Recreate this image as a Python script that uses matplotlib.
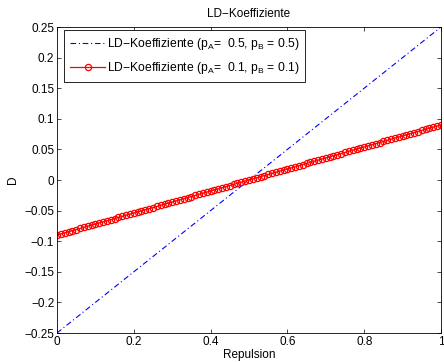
import matplotlib
matplotlib.use('Agg')
import matplotlib.pyplot as plt

# Data
x_blue = [0.0, 1.0]
d_blue = [-0.25, 0.25]

x_red = [
    0.00, 0.01, 0.02, 0.03, 0.04, 0.05, 0.06, 0.07, 0.08, 0.09,
    0.10, 0.11, 0.12, 0.13, 0.14, 0.15, 0.16, 0.17, 0.18, 0.19,
    0.20, 0.21, 0.22, 0.23, 0.24, 0.25, 0.26, 0.27, 0.28, 0.29,
    0.30, 0.31, 0.32, 0.33, 0.34, 0.35, 0.36, 0.37, 0.38, 0.39,
    0.40, 0.41, 0.42, 0.43, 0.44, 0.45, 0.46, 0.47, 0.48, 0.49,
    0.50, 0.51, 0.52, 0.53, 0.54, 0.55, 0.56, 0.57, 0.58, 0.59,
    0.60, 0.61, 0.62, 0.63, 0.64, 0.65, 0.66, 0.67, 0.68, 0.69,
    0.70, 0.71, 0.72, 0.73, 0.74, 0.75, 0.76, 0.77, 0.78, 0.79,
    0.80, 0.81, 0.82, 0.83, 0.84, 0.85, 0.86, 0.87, 0.88, 0.89,
    0.90, 0.91, 0.92, 0.93, 0.94, 0.95, 0.96, 0.97, 0.98, 0.99,
    1.00,
]
d_red = [
    -0.0900, -0.0882, -0.0864, -0.0846, -0.0828, -0.0810, -0.0792, -0.0774, -0.0756, -0.0738,
    -0.0720, -0.0702, -0.0684, -0.0666, -0.0648, -0.0630, -0.0612, -0.0594, -0.0576, -0.0558,
    -0.0540, -0.0522, -0.0504, -0.0486, -0.0468, -0.0450, -0.0432, -0.0414, -0.0396, -0.0378,
    -0.0360, -0.0342, -0.0324, -0.0306, -0.0288, -0.0270, -0.0252, -0.0234, -0.0216, -0.0198,
    -0.0180, -0.0162, -0.0144, -0.0126, -0.0108, -0.0090, -0.0072, -0.0054, -0.0036, -0.0018,
    0.0000, 0.0018, 0.0036, 0.0054, 0.0072, 0.0090, 0.0108, 0.0126, 0.0144, 0.0162,
    0.0180, 0.0198, 0.0216, 0.0234, 0.0252, 0.0270, 0.0288, 0.0306, 0.0324, 0.0342,
    0.0360, 0.0378, 0.0396, 0.0414, 0.0432, 0.0450, 0.0468, 0.0486, 0.0504, 0.0522,
    0.0540, 0.0558, 0.0576, 0.0594, 0.0612, 0.0630, 0.0648, 0.0666, 0.0684, 0.0702,
    0.0720, 0.0738, 0.0756, 0.0774, 0.0792, 0.0810, 0.0828, 0.0846, 0.0864, 0.0882,
    0.0900,
]

x_ticks = [0, 0.2, 0.4, 0.6, 0.8, 1]
x_ticklabels = ['0', '0.2', '0.4', '0.6', '0.8', '1']
y_ticks = [-0.25, -0.2, -0.15, -0.1, -0.05, 0, 0.05, 0.1, 0.15, 0.2, 0.25]
y_ticklabels = ['\u22120.25', '\u22120.2', '\u22120.15', '\u22120.1', '\u22120.05', '0',
                '0.05', '0.1', '0.15', '0.2', '0.25']

plt.rcParams['font.family'] = ['Liberation Sans', 'DejaVu Sans']
plt.rcParams['font.size'] = 8.5
plt.rcParams['mathtext.fontset'] = 'custom'
plt.rcParams['mathtext.rm'] = 'Liberation Sans'
plt.rcParams['mathtext.it'] = 'Liberation Sans'

fig = plt.figure(figsize=(4.44, 3.62), dpi=100)
ax = fig.add_axes([57 / 444, 1 - 333 / 362, 384 / 444, 306 / 362])

ax.plot(x_blue, d_blue, color='blue', linestyle='-.', linewidth=0.8,
        dashes=(5, 2.5, 1, 2.5),
        label='LD\u2212Koeffiziente (p$_\\mathregular{A}$=  0.5, p$_\\mathregular{B}$ = 0.5)')
ax.plot(x_red, d_red, color='red', linewidth=0.9, marker='o', markersize=4.5,
        markerfacecolor='none', markeredgewidth=0.9,
        label='LD\u2212Koeffiziente (p$_\\mathregular{A}$=  0.1, p$_\\mathregular{B}$ = 0.1)')

ax.set_xlim(0, 1)
ax.set_ylim(-0.25, 0.25)
ax.set_xticks(x_ticks)
ax.set_xticklabels(x_ticklabels)
ax.set_yticks(y_ticks)
ax.set_yticklabels(y_ticklabels)
ax.tick_params(direction='in', top=True, right=True, length=3, width=0.5, pad=2)
for s in ax.spines.values():
    s.set_linewidth(0.6)

ax.set_title('LD\u2212Koeffiziente', fontsize=8.5, pad=7)
ax.set_xlabel('Repulsion', labelpad=1)
ax.set_ylabel('D', labelpad=4)

leg = ax.legend(loc='upper left', bbox_to_anchor=(7 / 384, 1 - 3 / 306),
                fancybox=False, shadow=False, framealpha=1,
                edgecolor='black', borderaxespad=0, handlelength=2.9,
                handletextpad=0.15, borderpad=0.5, labelspacing=0.65, fontsize=8.7)
leg.get_frame().set_linewidth(0.6)

fig.savefig('out.png', dpi=100)
